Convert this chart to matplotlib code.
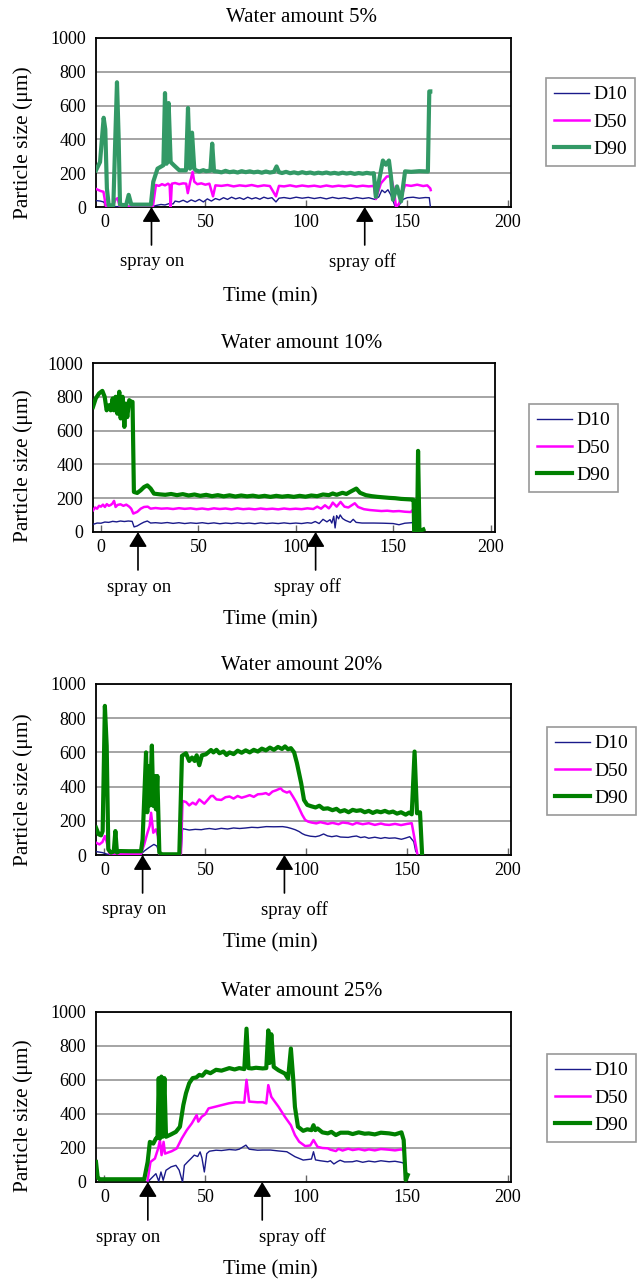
import matplotlib
matplotlib.use("Agg")
import matplotlib.pyplot as plt

plt.rcParams['font.family'] = ['Liberation Serif', 'DejaVu Serif']

## data: (time min, particle size um)
titles = ["Water amount 5%", "Water amount 10%", "Water amount 20%", "Water amount 25%"]
series_names = ["D10", "D50", "D90"]
spray_on = [23.3, 19.0, 18.9, 21.5]
spray_off = [129.0, 110.2, 89.2, 78.2]

d10_5 = [(-4.2, 38), (-2, 35), (-0.5, 30), (1.5, 5), (4, 2), (10, 3), (20, 2), (24, 4), (26, 10), (28, 15),
         (30, 12), (32, 20), (34, 18), (35, 35), (37, 30), (39, 40), (41, 28), (43, 42), (45, 32), (47, 45),
         (49, 30), (51, 48), (53, 35), (55, 50), (57, 42), (59, 55), (61, 45), (63, 58), (65, 48), (67, 55),
         (69, 45), (71, 58), (73, 48), (75, 55), (77, 46), (79, 58), (81, 50), (83, 55), (85, 30), (86.5, 52),
         (89, 56), (92, 50), (95, 58), (98, 52), (101, 57), (104, 50), (107, 56), (110, 48), (113, 57), (116, 50),
         (119, 55), (122, 48), (125, 56), (128, 50), (131, 55), (134, 45), (136, 60), (137.5, 100), (139, 85),
         (140.5, 102), (142, 70), (144, 5), (146, 10), (148, 45), (150, 55), (153, 58), (156, 52), (159, 56),
         (161, 55), (161.5, 5)]
d50_5 = [(-4.2, 107), (-2, 95), (-0.5, 90), (0.7, 5), (4, 3), (5.5, 45), (6.5, 52), (7.5, 5), (12, 3), (24, 3),
         (25.5, 130), (27, 125), (28.5, 135), (30, 128), (31.5, 138), (32.3, 130), (32.8, 0), (33.4, 138),
         (35, 142), (37, 135), (39, 140), (40.5, 138), (41.3, 82), (42.5, 150), (43.7, 208), (44.5, 150),
         (46, 135), (48, 140), (50, 132), (52, 138), (53.8, 63), (55, 128), (58, 125), (61, 130), (64, 122),
         (67, 128), (70, 124), (73, 130), (76, 122), (79, 128), (82, 124), (85, 63), (86.5, 125), (89, 122),
         (92, 128), (95, 121), (98, 127), (101, 122), (104, 126), (107, 120), (110, 127), (113, 121), (116, 126),
         (119, 122), (122, 127), (125, 121), (128, 126), (131, 122), (133.5, 125), (134.5, 47), (137, 140),
         (140, 181), (142, 181), (143.5, 100), (144.5, 0), (146, 20), (149, 130), (152, 125), (155, 132),
         (158, 124), (160, 128), (161.5, 110), (161.7, 100)]
d90_5 = [(-4.2, 217), (-2.2, 266), (-0.4, 528), (0.4, 460), (1.2, 110), (2.1, 10), (4.4, 10), (5.4, 420),
         (6.2, 738), (7.0, 420), (7.7, 14), (10.7, 10), (12.0, 72), (13.3, 14), (23.0, 14), (24.2, 150),
         (26.3, 227), (29.2, 247), (30.0, 674), (30.8, 256), (31.8, 615), (32.8, 266), (34.4, 247), (37.1, 217),
         (40.4, 217), (41.4, 586), (42.4, 227), (43.4, 440), (44.5, 227), (45.3, 217), (47, 210), (49, 218),
         (50.3, 212), (52.5, 215), (53.4, 375), (54.3, 212), (56, 210), (58, 205), (60, 214), (62, 206), (64, 210),
         (66, 204), (68, 212), (70, 206), (72, 211), (74, 205), (76, 209), (78, 203), (80, 210), (82, 204),
         (84, 208), (85.3, 240), (86.5, 206), (88, 201), (90, 208), (92, 200), (94, 205), (96, 199), (98, 206),
         (100, 200), (102, 204), (104, 198), (106, 203), (108, 199), (110, 204), (112, 198), (114, 202),
         (116, 197), (118, 203), (120, 198), (122, 202), (124, 196), (126, 201), (128, 197), (130, 202),
         (132, 198), (133.5, 200), (134.5, 60), (136, 150), (138, 275), (139.5, 250), (141, 275), (142, 180),
         (143, 43), (145, 122), (147, 33), (149, 211), (152, 208), (156, 212), (160.3, 210), (161, 684), (161.5, 684)]

d10_10 = [(-4.1, 45), (-2, 53), (0, 52), (2, 59), (4, 57), (6, 63), (8, 60), (10, 65), (12, 62), (14, 65),
          (16, 63), (17, 30), (18.6, 36), (20.5, 49), (22, 58), (23.8, 65), (25.5, 53), (28, 55), (31, 52),
          (34, 56), (37, 51), (40, 55), (43, 50), (46, 54), (49, 51), (52, 55), (55, 50), (58, 54), (61, 49),
          (64, 53), (67, 50), (70, 54), (73, 50), (76, 53), (79, 49), (82, 54), (85, 50), (88, 53), (91, 50),
          (94, 54), (97, 50), (100, 53), (103, 50), (106, 55), (108, 52), (110, 62), (112, 50), (114, 75),
          (116, 60), (117.6, 73), (118.5, 53), (119.5, 93), (120.2, 24), (121, 97), (122, 78), (122.8, 101),
          (124, 80), (125.5, 69), (128, 57), (129.5, 75), (131, 57), (134, 53), (140, 53), (145, 52), (150, 50),
          (153, 43), (156, 52), (159.5, 55), (160.5, 60)]
d50_10 = [(-4.1, 128), (-3, 145), (-2, 138), (-1, 155), (0, 150), (1, 162), (2, 148), (3, 165), (4, 155),
          (5, 160), (6, 170), (6.7, 184), (7.5, 148), (8.5, 160), (10, 164), (11.5, 155), (13, 162), (14.5, 150),
          (15.5, 138), (16.6, 109), (18.6, 119), (20.4, 138), (22.1, 148), (24, 150), (25.5, 138), (28, 142),
          (31, 138), (34, 140), (37, 136), (40, 141), (43, 137), (46, 140), (49, 135), (52, 139), (55, 134),
          (58, 140), (61, 136), (64, 139), (67, 134), (70, 140), (73, 135), (76, 138), (79, 134), (82, 139),
          (85, 135), (88, 138), (91, 134), (94, 139), (97, 135), (100, 138), (103, 135), (106, 140), (109, 136),
          (111, 150), (113, 138), (115, 158), (117, 140), (118, 154), (119, 174), (121, 150), (123, 178),
          (125, 150), (127, 145), (130.3, 170), (132, 148), (135, 135), (138, 130), (141, 127), (144, 124),
          (147, 126), (150, 122), (153, 124), (156, 120), (159, 118), (160.5, 135)]
d90_10 = [(-4.1, 740), (-2.7, 790), (-1.0, 820), (0.7, 835), (1.9, 800), (2.9, 720), (4.1, 750), (5.0, 720),
          (6.0, 790), (6.7, 720), (7.5, 800), (8.4, 700), (9.4, 830), (10.1, 672), (11.1, 800), (12.0, 622),
          (12.7, 760), (13.5, 680), (14.5, 780), (15.5, 770), (16.2, 770), (16.9, 237), (18.6, 231), (20.4, 247),
          (22.1, 266), (23.8, 276), (25.5, 257), (27.2, 227), (30, 223), (33, 220), (36, 225), (39, 218),
          (42, 224), (45, 216), (48, 222), (51, 214), (54, 220), (57, 212), (60, 218), (63, 211), (66, 217),
          (69, 210), (72, 216), (75, 211), (78, 215), (81, 209), (84, 214), (87, 208), (90, 214), (93, 209),
          (96, 213), (99, 208), (102, 214), (105, 209), (108, 216), (111, 212), (114, 222), (117, 218), (119, 228),
          (121, 220), (124, 232), (126, 225), (128, 238), (131.1, 257), (133, 232), (136, 218), (139, 212),
          (142, 208), (145, 205), (148, 202), (151, 200), (154, 196), (157, 194), (160, 192), (160.5, 190),
          (160.8, 0), (162.3, 0), (162.8, 480), (163.5, 5), (165.5, 15)]

d10_20 = [(-4.2, 20), (-1, 14), (1.5, 4), (10, 3), (18, 3), (19.7, 23), (22, 43), (24.5, 62), (26, 52),
          (27.2, 4), (37.9, 2), (38.7, 154), (42, 146), (45, 150), (48, 148), (49.8, 152), (52, 155), (55, 150),
          (57.9, 156), (61, 152), (64, 158), (67, 155), (70, 158), (73, 162), (76, 160), (80.2, 166), (84, 165),
          (88.3, 166), (90.5, 162), (92.4, 156), (94.5, 148), (96.5, 137), (98, 125), (99.5, 117), (102, 110),
          (104.6, 107), (106.5, 112), (108.6, 123), (110.5, 112), (112.7, 107), (115, 112), (117, 105),
          (120.8, 103), (122.9, 108), (124.9, 111), (127, 102), (129, 106), (131, 98), (134, 104), (137, 97),
          (139, 102), (141.1, 98), (144, 100), (147.2, 92), (149, 98), (151.3, 107), (153.3, 78), (154.3, 20)]
d50_20 = [(-4.2, 72), (-2.5, 62), (-1, 76), (0.2, 111), (1.1, 76), (1.9, 33), (2.5, 8), (10, 5), (18, 5),
          (19.7, 62), (21.3, 130), (22.4, 170), (23.1, 247), (24.2, 130), (25.5, 150), (26.5, 110), (27.2, 4),
          (37.9, 4), (38.7, 316), (40.4, 310), (42, 290), (43.7, 306), (45.3, 295), (47, 325), (49.5, 300),
          (52.8, 345), (53.8, 346), (55.5, 325), (57.9, 322), (60, 338), (62, 342), (64, 330), (66, 345),
          (68, 335), (70, 342), (72, 350), (74, 340), (76, 355), (78.2, 357), (80, 362), (81.5, 352), (83.3, 371),
          (85, 378), (87.3, 390), (88.5, 375), (90.4, 365), (91.8, 372), (93.4, 342), (95, 310), (96.5, 273),
          (98, 235), (99.5, 205), (101, 195), (102.6, 190), (105, 185), (107, 192), (110.7, 182), (113, 188),
          (116, 180), (118, 190), (120.8, 186), (123, 178), (125, 188), (128, 180), (131, 186), (134, 176),
          (137, 184), (139, 178), (141.1, 176), (144, 182), (147, 175), (150, 182), (152.3, 186), (155, 10)]
d90_20 = [(-4.2, 160), (-2.9, 121), (-1.7, 115), (-0.9, 140), (0.2, 872), (1.1, 638), (1.9, 33), (3.2, 14),
          (4.6, 20), (5.4, 140), (6.2, 14), (7.5, 23), (12, 22), (18.1, 22), (18.9, 92), (20.6, 600), (21.2, 250),
          (21.9, 520), (22.5, 290), (23.5, 640), (24.2, 287), (24.9, 462), (25.5, 267), (26.2, 462), (27.2, 14),
          (28.5, 4), (37.1, 4), (38.4, 580), (40.4, 595), (42, 550), (43.4, 570), (44.7, 550), (45.7, 583),
          (47, 525), (48.3, 583), (50.3, 589), (52.8, 614), (54, 600), (55.5, 615), (57, 595), (59, 605),
          (60.5, 585), (62, 600), (64, 590), (66, 610), (68, 598), (70, 612), (72, 600), (74, 615), (76, 605),
          (78, 622), (80, 612), (82, 628), (84, 615), (86, 632), (88, 620), (89.5, 635), (91, 618), (92.4, 625),
          (94, 600), (95.4, 537), (97.5, 420), (98.9, 322), (100.5, 293), (102.5, 285), (104.6, 278),
          (106.5, 288), (108.5, 270), (110.7, 273), (113, 262), (115, 270), (116.8, 254), (119, 262), (121, 250),
          (123, 264), (124.9, 258), (127, 262), (129, 250), (131, 258), (133, 246), (135, 256), (137, 250),
          (139, 258), (141, 248), (143, 254), (145, 242), (147, 250), (149.3, 236), (151, 248), (152.3, 238),
          (153.7, 605), (154.9, 244), (156.4, 250), (157.4, 10)]

d10_25 = [(21.4, 0), (23.9, 30), (25.5, 49), (26.9, 4), (28, 59), (29.1, 10), (30.5, 69), (33, 89), (35.4, 98),
          (37, 70), (38.7, 0), (39.6, 98), (41.2, 118), (42.9, 138), (44.5, 158), (46.2, 150), (47.4, 177),
          (48.3, 142), (49.5, 59), (50.7, 167), (52, 181), (55.3, 187), (58, 185), (61.9, 191), (65, 188),
          (66.8, 193), (70.1, 217), (71.7, 193), (75.9, 187), (78.4, 188), (82.3, 188), (86, 183), (90.4, 178),
          (94.4, 149), (98.5, 129), (102.6, 135), (103.6, 178), (104.6, 130), (107, 125), (110.7, 119), (112, 125),
          (113.7, 106), (115.5, 120), (116.8, 128), (119, 118), (122.9, 119), (125, 125), (128, 116), (131, 123),
          (134, 118), (137, 125), (141.1, 119), (144, 122), (147.2, 115), (148, 112)]
d50_25 = [(21.4, 10), (22.8, 118), (25, 138), (26.6, 197), (27.5, 246), (28.3, 158), (29.3, 236), (30, 167),
          (33.3, 181), (35.8, 197), (38.3, 256), (40.8, 305), (43.3, 345), (45.7, 394), (46.5, 355), (48.2, 384),
          (49.9, 398), (51.6, 433), (55, 443), (58.3, 453), (61.7, 463), (65, 469), (69.3, 467), (70.4, 601),
          (71.7, 473), (75.9, 469), (78.4, 470), (80.2, 462), (81.2, 570), (82.7, 501), (83.9, 481), (86.3, 442),
          (89.4, 384), (92.4, 334), (94.4, 276), (96.5, 237), (99.5, 211), (102, 215), (103.6, 247), (105.6, 207),
          (108, 200), (110.7, 198), (112, 190), (114.7, 182), (116, 195), (118, 185), (120.8, 196), (123, 188),
          (126, 194), (129, 186), (131, 192), (134, 186), (137, 194), (141.1, 190), (144, 186), (147.2, 192),
          (148.3, 185)]
d90_25 = [(-4.2, 118), (-3.4, 30), (-2.5, 16), (19.7, 16), (21.4, 118), (22.5, 236), (24.2, 226), (25.5, 256),
          (26.3, 260), (26.9, 611), (27.5, 256), (28.2, 620), (28.8, 266), (29.7, 611), (30.5, 266), (33, 280),
          (35.4, 295), (37.4, 325), (39.1, 453), (40.4, 522), (42, 581), (43.7, 611), (45.5, 615), (47, 630),
          (48.5, 625), (50.3, 650), (52.5, 640), (55.3, 660), (58, 655), (61.9, 670), (64.5, 662), (66.8, 670),
          (69.3, 664), (70.4, 902), (71.4, 670), (73, 668), (75.1, 672), (78.4, 668), (80.2, 670), (81.2, 892),
          (81.8, 700), (82.7, 869), (83.9, 677), (86.3, 657), (89.4, 638), (91, 608), (92.4, 785), (93.6, 598),
          (94.4, 442), (95.9, 325), (98.5, 301), (100.5, 310), (102.6, 305), (103.6, 334), (104.5, 305),
          (105.6, 315), (108, 292), (110.7, 286), (112.5, 295), (114.7, 276), (117, 290), (120.8, 290), (123, 282),
          (126, 292), (129, 284), (131, 286), (134, 280), (137, 290), (141.1, 286), (144, 280), (147.2, 292),
          (148.3, 247), (149.3, 12), (150.3, 41)]

panel_data = [(d10_5, d50_5, d90_5), (d10_10, d50_10, d90_10),
              (d10_20, d50_20, d90_20), (d10_25, d50_25, d90_25)]

## layout in pixels (left, right, top, bottom) etc.
W, H = 642, 1281
axes_px = [(96, 511, 38, 207), (93, 495, 363, 532), (96, 511, 684, 855), (96, 511, 1012, 1182)]
xlims = [(-4.2, 201.5), (-4.1, 202.3), (-4.2, 201.5), (-4.2, 201.5)]
title_y = [17, 343, 665, 992]
ylabel_y = [143, 466, 790, 1116]
xlabel_y = [297, 620, 943, 1270]
legend_xy = [(546, 78), (529, 404), (547, 727), (547, 1054)]
on_dx = [1, 1, -8, -20]
off_dx = [-2, -8, 10, 30]
d90_colors = ['#339966', '#008000', '#008000', '#008000']
colors = ['#1a1a8a', '#ff00ff']
widths = [1.0, 1.8, 3.0]

fig = plt.figure(figsize=(W / 100, H / 100), dpi=100)

for i in range(4):
    l, r, t, b = axes_px[i]
    ax = fig.add_axes([l / W, 1 - b / H, (r - l) / W, (b - t) / H])
    cols = colors + [d90_colors[i]]
    for j, s in enumerate(panel_data[i]):
        xs = [p[0] for p in s]
        ys = [p[1] for p in s]
        ax.plot(xs, ys, color=cols[j], lw=widths[j], label=series_names[j],
                solid_joinstyle='round', zorder=3 + j)
    ax.set_xlim(*xlims[i])
    ax.set_ylim(0, 1000)
    ax.set_xticks([0, 50, 100, 150, 200])
    ax.set_yticks([0, 200, 400, 600, 800, 1000])
    ax.yaxis.grid(True, color='#8c8c8c', lw=1.1)
    ax.set_axisbelow(True)
    ax.tick_params(axis='x', direction='in', length=5, width=1, color='#666666',
                   labelsize=13, pad=5)
    ax.tick_params(axis='y', length=0, labelsize=13, pad=7)
    for sp in ax.spines.values():
        sp.set_linewidth(1.3)
        sp.set_color('black')

    fig.text(302 / W, 1 - title_y[i] / H, titles[i], ha='center', va='center', fontsize=15)
    fig.text(23 / W, 1 - ylabel_y[i] / H, "Particle size (μm)", ha='center', va='center',
             rotation=90, fontsize=15.5)
    fig.text(270 / W, 1 - xlabel_y[i] / H, "Time (min)", ha='center', va='center', fontsize=15)

    # spray on / off arrows
    for tt, dx, lab in [(spray_on[i], on_dx[i], "spray on"), (spray_off[i], off_dx[i], "spray off")]:
        ax.annotate('', xy=(tt, 0), xycoords=('data', 'axes fraction'),
                    xytext=(0, -38), textcoords='offset pixels',
                    arrowprops=dict(arrowstyle='-|>,head_length=0.9,head_width=0.55',
                                    color='black', lw=1.2, shrinkA=0, shrinkB=0,
                                    mutation_scale=10),
                    annotation_clip=False)
        ax.annotate(lab, xy=(tt, 0), xycoords=('data', 'axes fraction'),
                    xytext=(dx, -55), textcoords='offset pixels',
                    ha='center', va='center', fontsize=13.5, annotation_clip=False)

    lx, ly = legend_xy[i]
    leg = ax.legend(loc='upper left', bbox_to_anchor=(lx / W, 1 - ly / H),
                    bbox_transform=fig.transFigure, fontsize=14, frameon=True,
                    fancybox=False, edgecolor='#7f7f7f', borderpad=0.4,
                    labelspacing=0.5, handlelength=1.8, handletextpad=0.25,
                    borderaxespad=0)
    leg.get_frame().set_linewidth(1.2)

fig.savefig("out.png", dpi=100)
